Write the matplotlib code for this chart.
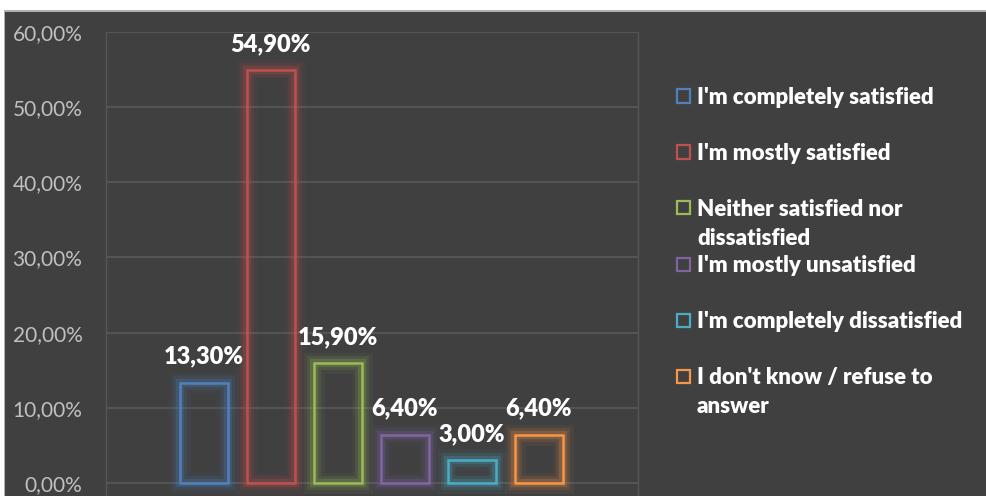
import matplotlib.pyplot as plt
import matplotlib.patheffects as pe
from matplotlib.patches import Rectangle
import numpy as np

# survey answers and their shares (%)
labels = ["I'm completely satisfied", "I'm mostly satisfied",
          "Neither satisfied nor\ndissatisfied", "I'm mostly unsatisfied",
          "I'm completely dissatisfied", "I don't know / refuse to\nanswer"]
values = [13.3, 54.9, 15.9, 6.4, 3.0, 6.4]
colors = ["#4F81BD", "#C0504D", "#9BBB59", "#8064A2", "#4BACC6", "#F79646"]
yticks = [0, 10, 20, 30, 40, 50, 60]

bg = "#404040"
W, H = 987, 496

fig = plt.figure(figsize=(W / 100, H / 100), dpi=100)
fig.patch.set_facecolor(bg)

# white frame strips at top and left
fig.patches.append(Rectangle((0, 1 - 10 / H), 1, 10 / H, transform=fig.transFigure,
                             facecolor="white", edgecolor="none", zorder=0))
fig.patches.append(Rectangle((0, 0), 4 / W, 1, transform=fig.transFigure,
                             facecolor="white", edgecolor="none", zorder=0))
fig.patches.append(Rectangle((4 / W, 0), 1.2 / W, 1 - 10 / H, transform=fig.transFigure,
                             facecolor="#b0b0b0", edgecolor="none", zorder=0))
fig.patches.append(Rectangle((4 / W, 1 - 11.5 / H), 1 - 4 / W, 1.5 / H, transform=fig.transFigure,
                             facecolor="#b0b0b0", edgecolor="none", zorder=0))

ax = fig.add_axes([106 / W, 0, (638 - 106) / W, (496 - 32) / H])
ax.set_facecolor(bg)

x = np.arange(len(values))
ax.set_xlim(-1.46, 6.48)
ax.set_ylim(-1.73, 60)

glow = lambda c: [pe.Stroke(linewidth=15, foreground=c, alpha=0.06),
                  pe.Stroke(linewidth=10, foreground=c, alpha=0.12),
                  pe.Stroke(linewidth=6, foreground=c, alpha=0.22),
                  pe.Normal()]

bars = ax.bar(x, values, width=0.72, facecolor="none", linewidth=1.8, zorder=3)
for b, c, v in zip(bars, colors, values):
    b.set_edgecolor(c)
    b.set_path_effects(glow(c))
    ax.annotate(f"{v:.2f}%".replace(".", ","), (b.get_x() + b.get_width() / 2, v),
                xytext=(0, 19), textcoords="offset points", ha="center", va="center",
                color="white", fontsize=17, fontweight="heavy", family="Lato", zorder=4)

ax.set_yticks(yticks)
ax.set_yticklabels([f"{t},00%" for t in yticks], family="Lato", fontsize=15, color="#c0c0c0")
ax.tick_params(axis="y", length=0, pad=17)
ax.set_xticks([])
ax.grid(axis="y", color="#595959", linewidth=1.2, zorder=1)
for s in ["left", "right"]:
    ax.spines[s].set_color("#555555")
    ax.spines[s].set_linewidth(1)
ax.spines["top"].set_visible(False)
ax.spines["bottom"].set_visible(False)

# legend drawn entry by entry
ys = [96, 152, 208, 264, 320, 376]
for lab, c, yp in zip(labels, colors, ys):
    fig.patches.append(Rectangle((677 / W, 1 - (yp + 6.5) / H), 13 / W, 13 / H,
                                 transform=fig.transFigure, facecolor="none",
                                 edgecolor=c, linewidth=1.6))
    fig.text(697 / W, 1 - (yp - 9) / H, lab, ha="left", va="top", color="white",
             fontsize=16, fontweight="heavy", family="Lato", linespacing=1.45)

fig.savefig("out.png", dpi=100, facecolor=bg)
